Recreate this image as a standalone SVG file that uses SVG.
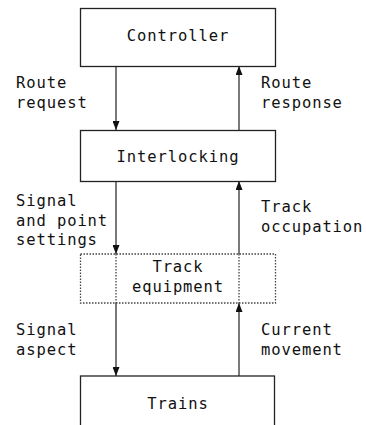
<svg xmlns="http://www.w3.org/2000/svg" width="366" height="425" viewBox="0 0 366 425">
<style>
.box{fill:#fff;stroke:#222;stroke-width:1.3}
.dot{fill:none;stroke:#444;stroke-width:1.3;stroke-dasharray:1.5 1.5}
.t{font-family:"DejaVu Sans Mono",monospace;font-size:15.5px;letter-spacing:0.9px;fill:#111}
.c{text-anchor:middle}
.ln{stroke:#333;stroke-width:1.3;fill:none}
.dl{stroke:#444;stroke-width:1.3;stroke-dasharray:1.5 1.5;fill:none}
</style>
<defs>
<marker id="dn" markerWidth="7" markerHeight="9" refX="3.5" refY="9" orient="0" markerUnits="userSpaceOnUse" viewBox="0 0 7 9">
<path d="M0,0 L7,0 L3.5,9 Z" fill="#111"/>
</marker>
<marker id="up" markerWidth="7" markerHeight="9" refX="3.5" refY="0" orient="0" markerUnits="userSpaceOnUse" viewBox="0 0 7 9">
<path d="M0,9 L7,9 L3.5,0 Z" fill="#111"/>
</marker>
</defs>
<rect width="366" height="425" fill="#fff"/>
<g id="connectors">
<line class="ln" x1="116" y1="66" x2="116" y2="130" marker-end="url(#dn)"/>
<line class="ln" x1="239" y1="130" x2="239" y2="66" marker-end="url(#up)"/>
<line class="ln" x1="116" y1="181" x2="116" y2="254" marker-end="url(#dn)"/>
<line class="ln" x1="239" y1="254" x2="239" y2="181" marker-end="url(#up)"/>
<line class="ln" x1="116" y1="303" x2="116" y2="376" marker-end="url(#dn)"/>
<line class="ln" x1="239" y1="376" x2="239" y2="303" marker-end="url(#up)"/>
</g>
<g id="controller">
<rect class="box" x="80.5" y="8.5" width="195" height="58"/>
<text class="t c" x="178" y="41">Controller</text>
</g>
<g id="interlocking">
<rect class="box" x="80.5" y="130.5" width="195" height="51"/>
<text class="t c" x="178" y="162">Interlocking</text>
</g>
<g id="track-equipment">
<rect class="dot" x="80.5" y="254" width="195" height="49"/>
<line class="dl" x1="116" y1="254" x2="116" y2="303"/>
<line class="dl" x1="239" y1="254" x2="239" y2="303"/>
<text class="t c" x="178" y="272">Track</text>
<text class="t c" x="178" y="292">equipment</text>
</g>
<g id="trains">
<rect class="box" x="80.5" y="376" width="194" height="60"/>
<text class="t c" x="178" y="409">Trains</text>
</g>
<g id="labels">
<text class="t" x="16" y="88">Route</text>
<text class="t" x="16" y="108">request</text>
<text class="t" x="261" y="88">Route</text>
<text class="t" x="261" y="108">response</text>
<text class="t" x="16" y="206">Signal</text>
<text class="t" x="16" y="225.5">and point</text>
<text class="t" x="16" y="245">settings</text>
<text class="t" x="261" y="212">Track</text>
<text class="t" x="261" y="232">occupation</text>
<text class="t" x="16" y="335">Signal</text>
<text class="t" x="16" y="355">aspect</text>
<text class="t" x="261" y="335">Current</text>
<text class="t" x="261" y="355">movement</text>
</g>
</svg>
